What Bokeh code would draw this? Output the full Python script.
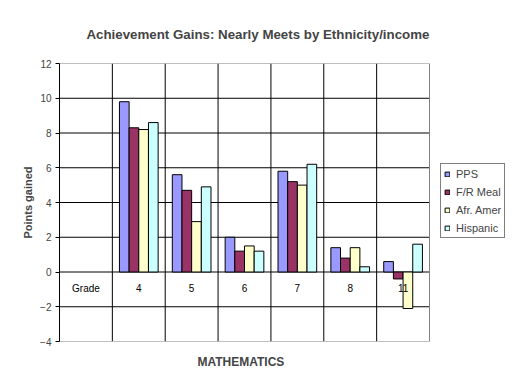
from bokeh.plotting import figure
from bokeh.models import Range1d, FixedTicker, Legend, LegendItem, Title
from bokeh.core.properties import value
from bokeh.embed import file_html
from bokeh.resources import INLINE

# ---- data ----
categories = ["Grade", "4", "5", "6", "7", "8", "11"]
series_names = ["PPS", "F/R Meal", "Afr. Amer", "Hispanic"]
pps = [9.8, 5.6, 2.0, 5.8, 1.4, 0.6]
fr_meal = [8.3, 4.7, 1.2, 5.2, 0.8, -0.4]
afr_amer = [8.2, 2.9, 1.5, 5.0, 1.4, -2.1]
hispanic = [8.6, 4.9, 1.2, 6.2, 0.3, 1.6]
colors = ["#9999FF", "#993366", "#FFFFCC", "#CCFFFF"]
y_ticks = [-4, -2, 0, 2, 4, 6, 8, 10, 12]

FONT = "Liberation Sans"
series = [pps, fr_meal, afr_amer, hispanic]
n = len(categories)

# ---- layout constants (pixels) ----
CANVAS_W, CANVAS_H = 511, 386
LEFT, TOP, BOTTOM = 59, 63, 45
PLOT_W = 370                      # width of the plotting area proper
FRAME_W = CANVAS_W - LEFT         # frame also holds the legend at its right

p = figure(
    width=CANVAS_W, height=CANVAS_H,
    min_border_left=LEFT, min_border_right=0,
    min_border_top=TOP, min_border_bottom=BOTTOM,
    x_range=Range1d(0, n * FRAME_W / PLOT_W),
    y_range=Range1d(y_ticks[0], y_ticks[-1]),
    x_axis_location=None,
    output_backend="svg", toolbar_location=None,
)
p.background_fill_color = "white"
p.border_fill_color = "white"
p.outline_line_color = None
for g in p.grid:
    g.visible = False

# title
p.title.text = "Achievement Gains: Nearly Meets by Ethnicity/income"
p.title.text_font = FONT
p.title.text_font_size = "13.3px"
p.title.text_font_style = "bold"
p.title.align = "left"
p.title.offset = 27
p.title.standoff = 44

# x axis title below the plot
p.add_layout(Title(text="MATHEMATICS", align="left", offset=138, standoff=23,
                   text_font=FONT, text_font_size="12px", text_font_style="bold"),
             "below")

# grid lines (restricted to the plotting area)
inner = y_ticks[1:-1]
p.segment(x0=[0] * len(inner), x1=[n] * len(inner), y0=inner, y1=inner,
          line_color="black", line_width=1)
bounds = list(range(1, n))
p.segment(x0=bounds, x1=bounds, y0=[y_ticks[0]] * len(bounds), y1=[y_ticks[-1]] * len(bounds),
          line_color="black", line_width=1)
# plot-area border
p.quad(left=[0], right=[n], bottom=[y_ticks[0]], top=[y_ticks[-1]],
       fill_color=None, line_color="#808080", line_width=1)

# bars
bw = 0.183
renderers = []
for k, (vals, col) in enumerate(zip(series, colors)):
    xs = [i + 1 + 0.5 + (k - 1.5) * bw for i in range(len(vals))]
    r = p.vbar(x=xs, top=vals, bottom=0, width=bw, fill_color=col,
               line_color="black", line_width=1)
    renderers.append(r)

# category labels inside plot, just below zero line
p.text(x=[i + 0.5 for i in range(n)], y=[0] * n,
       text=categories, text_align="center", text_baseline="middle",
       y_offset=16, text_font=value(FONT), text_font_size="10px", text_color="black")

# y axis
p.yaxis.ticker = FixedTicker(ticks=y_ticks)
p.yaxis.bounds = (y_ticks[0], y_ticks[-1])
p.yaxis.minor_tick_line_color = None
p.yaxis.major_tick_out = 4
p.yaxis.major_tick_in = 0
p.yaxis.major_label_standoff = 4
p.yaxis.axis_line_color = "black"
p.yaxis.major_tick_line_color = "black"
p.yaxis.major_label_text_font = FONT
p.yaxis.major_label_text_font_size = "10px"
p.yaxis.axis_label = "Points gained"
p.yaxis.axis_label_text_font = FONT
p.yaxis.axis_label_text_font_size = "11px"
p.yaxis.axis_label_text_font_style = "bold"
p.yaxis.axis_label_standoff = 3

# legend (just right of the plotting area)
legend = Legend(
    items=[LegendItem(label=nm, renderers=[r]) for nm, r in zip(series_names, renderers)],
    location=(381, 103),
    label_text_font=FONT, label_text_font_size="11px",
    glyph_width=6, glyph_height=6, label_height=13, label_standoff=6,
    spacing=5, padding=3, margin=0,
    border_line_color="black", border_line_width=1,
    background_fill_color="white",
)
p.add_layout(legend, "center")

open("out.html", "w").write(file_html(p, INLINE))
